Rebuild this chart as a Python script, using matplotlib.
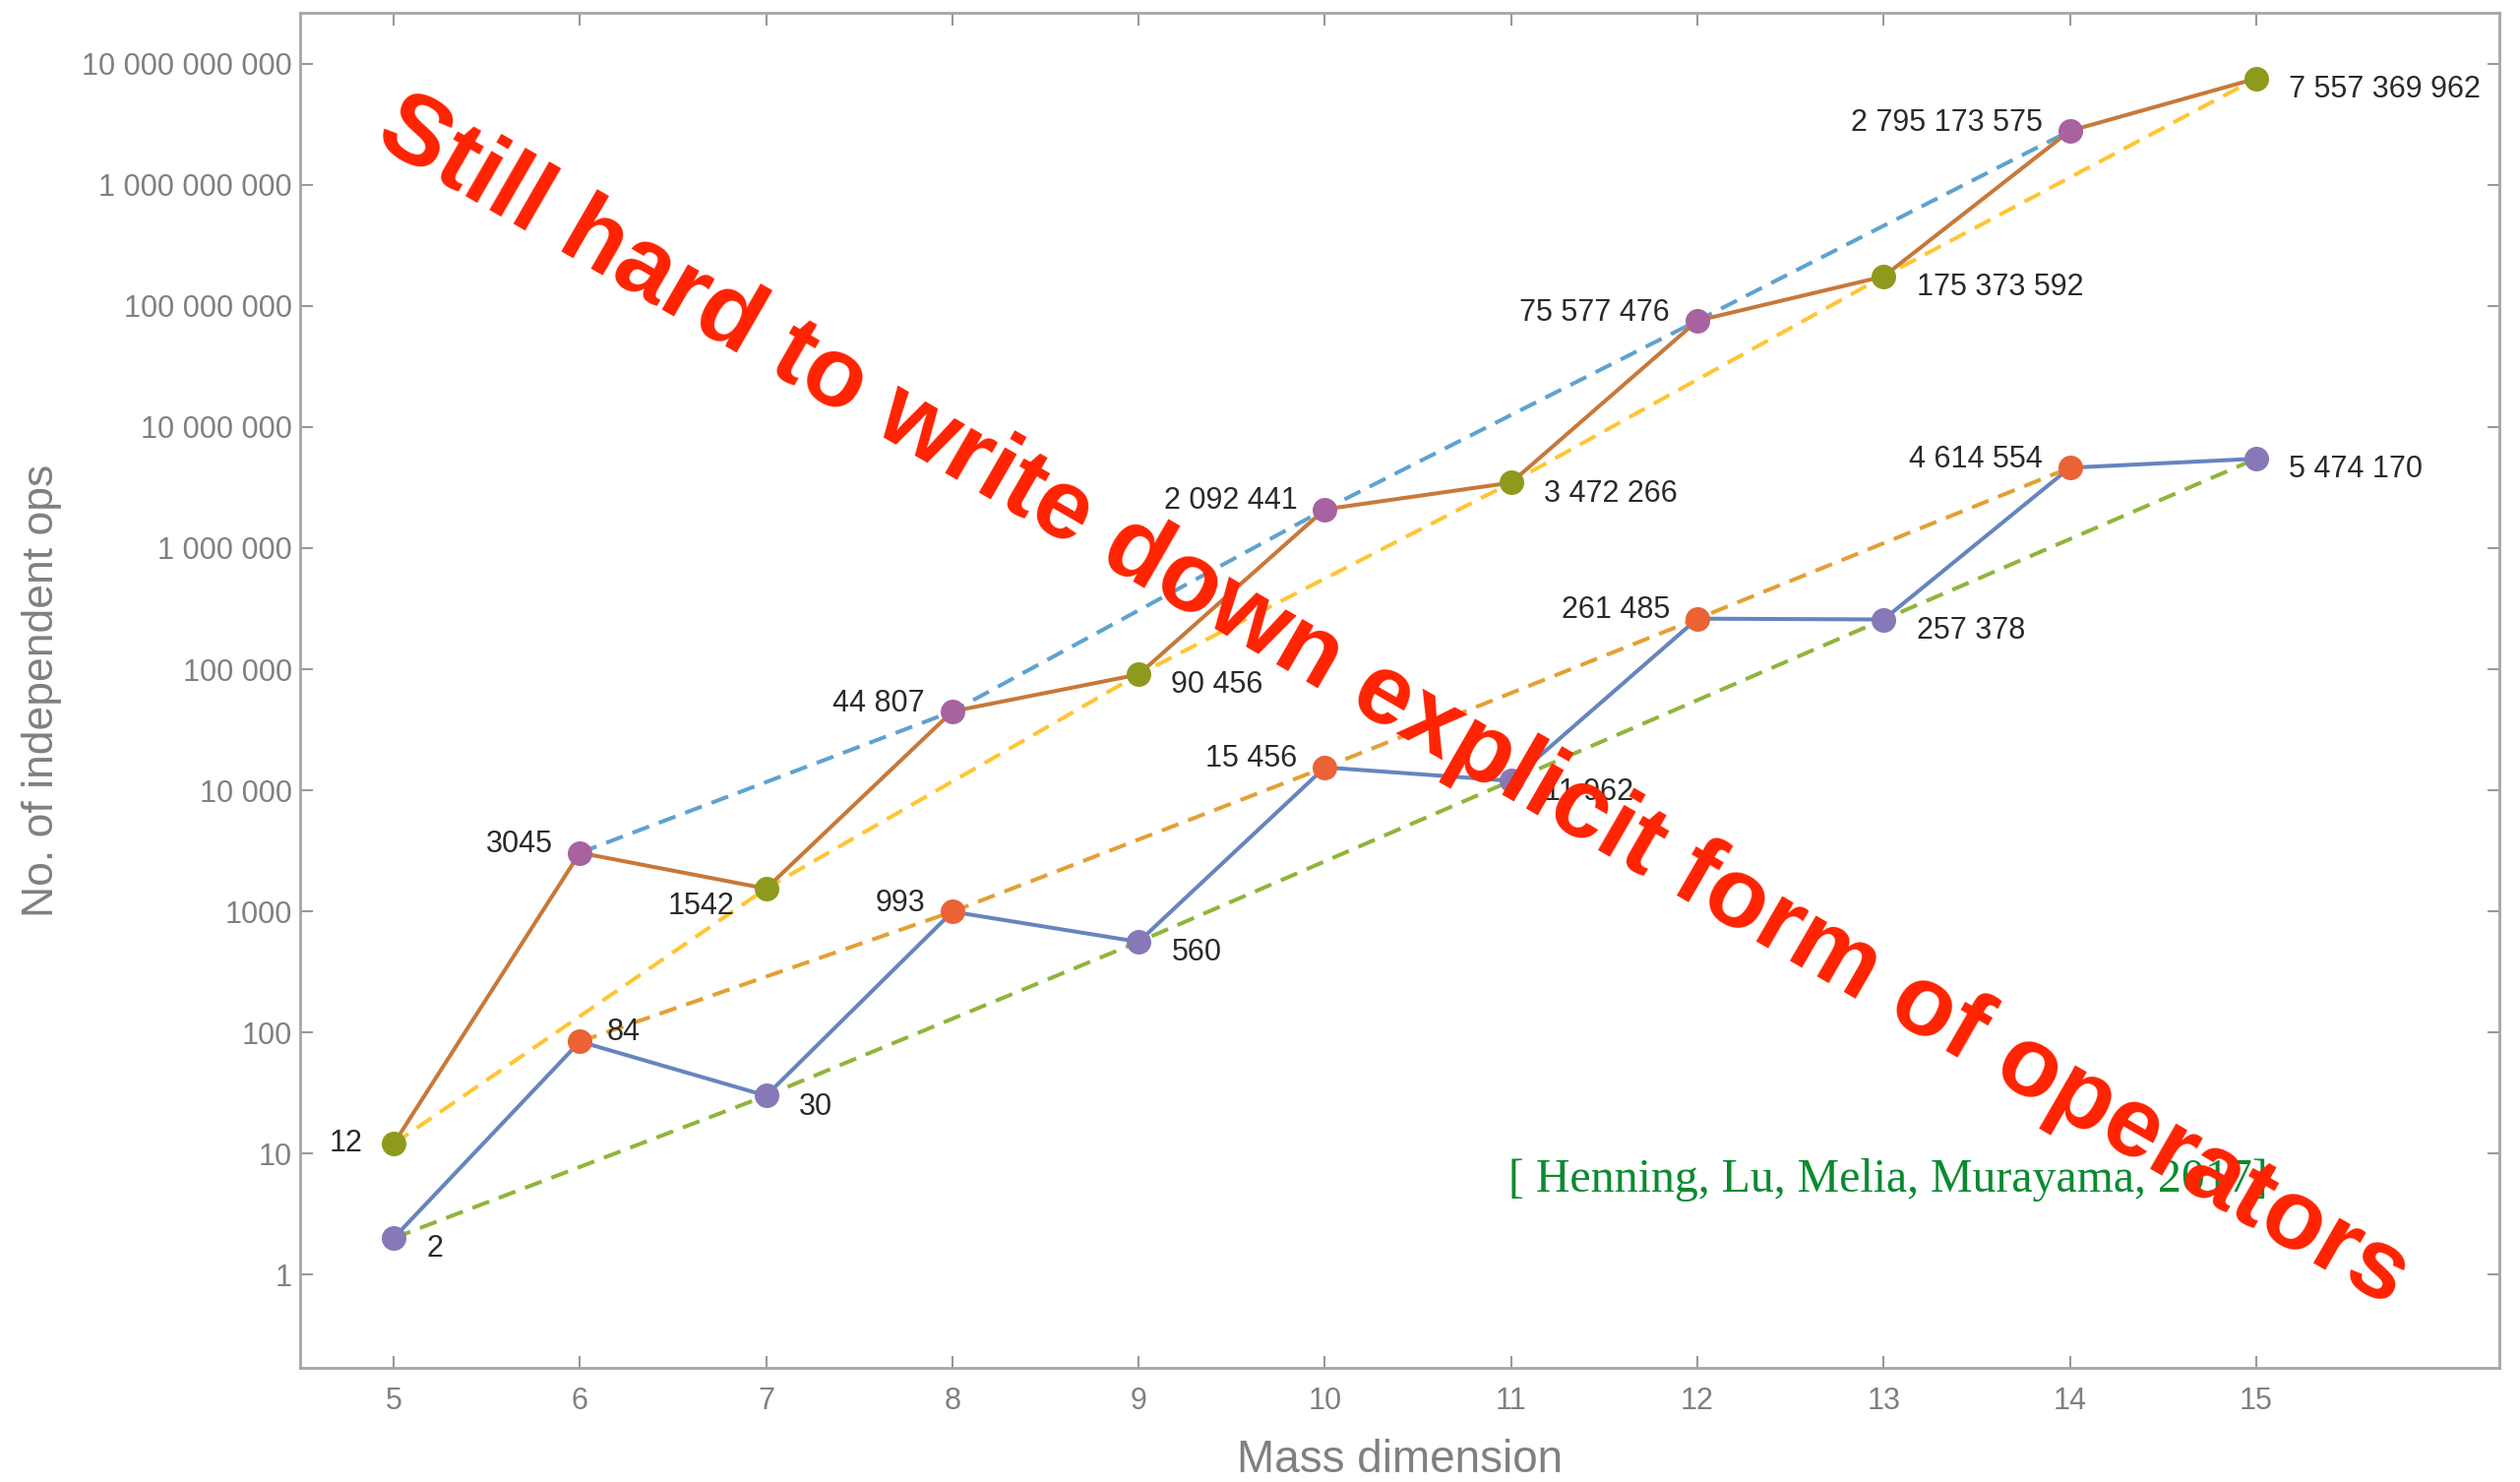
import numpy as np
import matplotlib.pyplot as plt

# data
dims = [5, 6, 7, 8, 9, 10, 11, 12, 13, 14, 15]
ops_nf1 = [2, 84, 30, 993, 560, 15456, 11962, 261485, 257378, 4614554, 5474170]
ops_nf3 = [12, 3045, 1542, 44807, 90456, 2092441, 3472266, 75577476,
           175373592, 2795173575, 7557369962]
ytick_vals = [1, 10, 100, 1000, 10**4, 10**5, 10**6, 10**7, 10**8, 10**9, 10**10]
ytick_labels = ["1", "10", "100", "1000", "10 000", "100 000", "1 000 000",
                "10 000 000", "100 000 000", "1 000 000 000", "10 000 000 000"]
xtick_labels = [str(d) for d in dims]
citation = "[ Henning, Lu, Melia, Murayama, 2017]"
slogan = "Still hard to write down explicit form of operators"

plt.rcParams['font.family'] = ['Liberation Sans', 'DejaVu Sans']

def fmt(v):
    if v < 10000:
        return str(v)
    return "{:,}".format(v).replace(",", " ")

fig = plt.figure(figsize=(25.61, 15.06), dpi=100)
ax = fig.add_axes([0.1191, 0.0770, 0.8727, 0.9144])

d = np.array(dims)
n1 = np.array(ops_nf1, dtype=float)
n3 = np.array(ops_nf3, dtype=float)
odd = d % 2 == 1
even = ~odd

dash = (0, (4.5, 2.6))
lw = 2.9
ax.plot(d[even], n1[even], color='#E3A033', lw=lw, ls=dash, zorder=2)
ax.plot(d[odd], n1[odd], color='#8FB53A', lw=lw, ls=dash, zorder=2)
ax.plot(d[even], n3[even], color='#5EA2D0', lw=lw, ls=dash, zorder=2)
ax.plot(d[odd], n3[odd], color='#FFC533', lw=lw, ls=dash, zorder=2)

ax.plot(d, n1, color='#6585BD', lw=lw, zorder=3)
ax.plot(d, n3, color='#C87838', lw=lw, zorder=3)

ms = 18
ax.plot(d[odd], n1[odd], ls='none', marker='o', ms=ms, mew=0, color='#8778B8', zorder=4)
ax.plot(d[even], n1[even], ls='none', marker='o', ms=ms, mew=0, color='#EB6235', zorder=4)
ax.plot(d[odd], n3[odd], ls='none', marker='o', ms=ms, mew=0, color='#8E9A1C', zorder=4)
ax.plot(d[even], n3[even], ls='none', marker='o', ms=ms, mew=0, color='#A862A0', zorder=4)

# point labels: odd dims to the lower right, even dims to the upper left
def place(i, series):
    if series == 1 and i == 1:
        return (20, 7, 'left')
    if series == 3 and i == 0:
        return (-23, 0, 'right')
    if series == 3 and i == 2:
        return (-23, -13, 'right')
    if dims[i] % 2 == 1:
        return (24, -8, 'left')
    return (-20, 6, 'right')

for series, vals in [(1, ops_nf1), (3, ops_nf3)]:
    for i, v in enumerate(vals):
        dx, dy, ha = place(i, series)
        ax.annotate(fmt(v), (dims[i], v), xytext=(dx, dy), textcoords='offset points',
                    ha=ha, va='center', fontsize=22, color='#2a2a2a', zorder=5)

ax.set_yscale('log')
ax.set_xlim(4.498, 16.306)
ax.set_ylim(10**-0.771, 10**10.422)
ax.set_xticks(dims)
ax.set_xticklabels(xtick_labels)
ax.set_yticks(ytick_vals)
ax.set_yticklabels(ytick_labels)
ax.minorticks_off()
ax.tick_params(direction='in', length=9, width=1.5, color='#999999',
               labelsize=22, labelcolor='#808080', top=True, right=True,
               labeltop=False, labelright=False)
ax.tick_params(axis='x', pad=14)
ax.tick_params(axis='y', pad=6)
for s in ax.spines.values():
    s.set_color('#a6a6a6')
    s.set_linewidth(2)

ax.set_xlabel("Mass dimension", fontsize=33, color='#808080', labelpad=16)
ax.set_ylabel("No. of independent ops", fontsize=32, color='#808080', labelpad=14)

ax.text(0.722, 0.139, citation, transform=ax.transAxes, ha='center', va='center',
        fontsize=34.5, color='#0a8a30', family=['Liberation Serif', 'DejaVu Serif'], zorder=6)

fig.text(0.5528, 0.526, slogan, rotation=-30.0, rotation_mode='anchor', ha='center',
         va='center', fontsize=73, fontweight='bold', color='#ff2200', zorder=10)

fig.savefig('out.png', dpi=100)
